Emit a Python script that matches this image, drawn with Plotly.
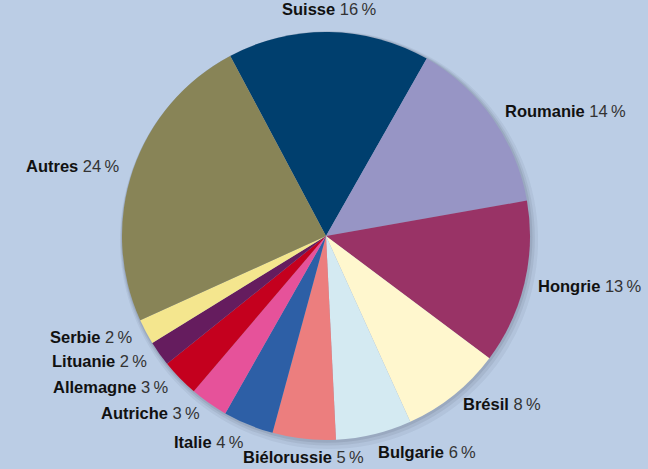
import math
import plotly.graph_objects as go

countries = ["Suisse", "Roumanie", "Hongrie", "Brésil", "Bulgarie", "Biélorussie",
             "Italie", "Autriche", "Allemagne", "Lituanie", "Serbie", "Autres"]
shares = [16, 14, 13, 8, 6, 5, 4, 3, 3, 2, 2, 24]
colors = ["#003F6E", "#9795C5", "#993366", "#FFF7CE", "#D4EAF2", "#EC7E7E",
          "#2D5FA6", "#E6529A", "#C4001E", "#651C5E", "#F4E68E", "#888457"]

W, H = 648, 469
cx, cy, R = 326, 236, 204
rotation = -28


def dom(x0, y0, r):
    return dict(x=[(x0 - r) / W, (x0 + r) / W], y=[1 - (y0 + r) / H, 1 - (y0 - r) / H])


fig = go.Figure()
# soft drop shadow behind the pie
for k, a in [(5, 0.06), (3, 0.08), (1.5, 0.10)]:
    fig.add_trace(go.Pie(
        values=[1], labels=["shadow"], sort=False, textinfo="none", hoverinfo="skip",
        marker=dict(colors=[f"rgba(40,50,70,{a})"], line=dict(width=0)),
        showlegend=False, domain=dom(cx + k * 0.6, cy + k * 0.8, R + k),
    ))
fig.add_trace(go.Pie(
    labels=countries, values=shares, sort=False, direction="clockwise",
    rotation=rotation, marker=dict(colors=colors, line=dict(width=0)),
    textinfo="none", hoverinfo="label+percent", showlegend=False,
    domain=dom(cx, cy, R),
))

total = sum(shares)
acc = 0
for name, v in zip(countries, shares):
    mid = rotation + (acc + v / 2) / total * 360
    acc += v
    t = math.radians(mid)
    s, c = math.sin(t), math.cos(t)
    xa = "left" if s > 0.15 else ("right" if s < -0.15 else "center")
    ya = "bottom" if c > 0.9 else ("top" if c < -0.9 else "middle")
    gap = 7 if ya == "top" else 12
    px = cx + (R + gap) * s
    py = cy - (R + gap) * c
    fig.add_annotation(
        x=px / W, y=1 - py / H, xref="paper", yref="paper",
        xanchor=xa, yanchor=ya, showarrow=False,
        text=f"<b>{name}</b> <span style='color:#333333'>{v}\u2009%</span>",
        font=dict(family="Liberation Sans, Arial, sans-serif", size=16.5, color="#111111"),
    )

fig.update_layout(
    width=W, height=H, margin=dict(l=0, r=0, t=0, b=0),
    paper_bgcolor="#BBCDE5", plot_bgcolor="#BBCDE5",
)
fig.write_html("out.html", config={"displayModeBar": False},
               post_script="document.body.style.margin='0';document.body.style.overflow='hidden';")
